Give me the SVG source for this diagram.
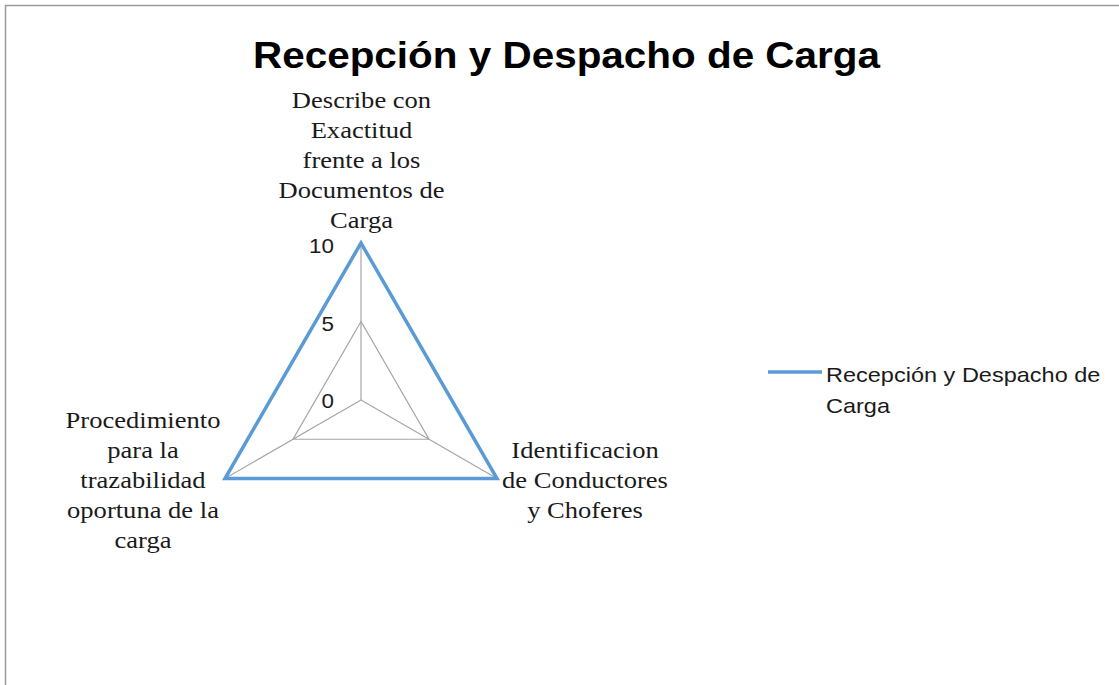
<svg xmlns="http://www.w3.org/2000/svg" width="1119" height="685" viewBox="0 0 1119 685">
<style>
.grid{fill:none;stroke:#a6a6a6;stroke-width:1.2}
.series{fill:none;stroke:#5b9bd5;stroke-width:3.5;stroke-linejoin:miter}
.lbl{font-family:"Liberation Serif","Times New Roman",serif;font-size:23.5px;fill:#1a1a1a;text-anchor:middle}
.num{font-family:"Liberation Sans",Arial,sans-serif;font-size:20px;fill:#1a1a1a;text-anchor:end}
.leg{font-family:"Liberation Sans",Arial,sans-serif;font-size:21px;fill:#1a1a1a}
.title{font-family:"Liberation Sans",Arial,sans-serif;font-size:36px;font-weight:bold;fill:#000;text-anchor:middle}
</style>
<rect x="0" y="0" width="1119" height="685" fill="#ffffff"/>
<rect x="5.5" y="5.5" width="1125" height="690" fill="none" stroke="#9a9a9a" stroke-width="1.5"/>
<text class="title" x="566.5" y="68" textLength="627" lengthAdjust="spacingAndGlyphs">Recepción y Despacho de Carga</text>
<g id="connectors">
<polygon class="grid" points="361,321.5 293,439.25 429,439.25"/>
<polygon class="grid" points="361,243 225,478.5 497,478.5"/>
<line class="grid" x1="361" y1="400" x2="361" y2="243"/>
<line class="grid" x1="361" y1="400" x2="225" y2="478.5"/>
<line class="grid" x1="361" y1="400" x2="497" y2="478.5"/>
<polygon class="series" points="361,243 225,478.5 497,478.5"/>
</g>
<g id="axis-values" transform="translate(334,0) scale(1.12,1)">
<text class="num" x="0" y="253">10</text>
<text class="num" x="0" y="331">5</text>
<text class="num" x="0" y="408">0</text>
</g>
<g id="node-top" transform="translate(361.5,0) scale(1.13,1)">
<text class="lbl" x="0" y="108">Describe con</text>
<text class="lbl" x="0" y="138">Exactitud</text>
<text class="lbl" x="0" y="168">frente a los</text>
<text class="lbl" x="0" y="198">Documentos de</text>
<text class="lbl" x="0" y="228">Carga</text>
</g>
<g id="node-right" transform="translate(585,0) scale(1.13,1)">
<text class="lbl" x="0" y="458">Identificacion</text>
<text class="lbl" x="0" y="488">de Conductores</text>
<text class="lbl" x="0" y="518">y Choferes</text>
</g>
<g id="node-left" transform="translate(143,0) scale(1.13,1)">
<text class="lbl" x="0" y="428">Procedimiento</text>
<text class="lbl" x="0" y="458">para la</text>
<text class="lbl" x="0" y="488">trazabilidad</text>
<text class="lbl" x="0" y="518">oportuna de la</text>
<text class="lbl" x="0" y="548">carga</text>
</g>
<g id="legend">
<line x1="768" y1="372" x2="822" y2="372" stroke="#5b9bd5" stroke-width="3.5"/>
<g transform="translate(826,0) scale(1.12,1)">
<text class="leg" x="0" y="382">Recepción y Despacho de</text>
<text class="leg" x="0" y="413">Carga</text>
</g>
</g>
</svg>
